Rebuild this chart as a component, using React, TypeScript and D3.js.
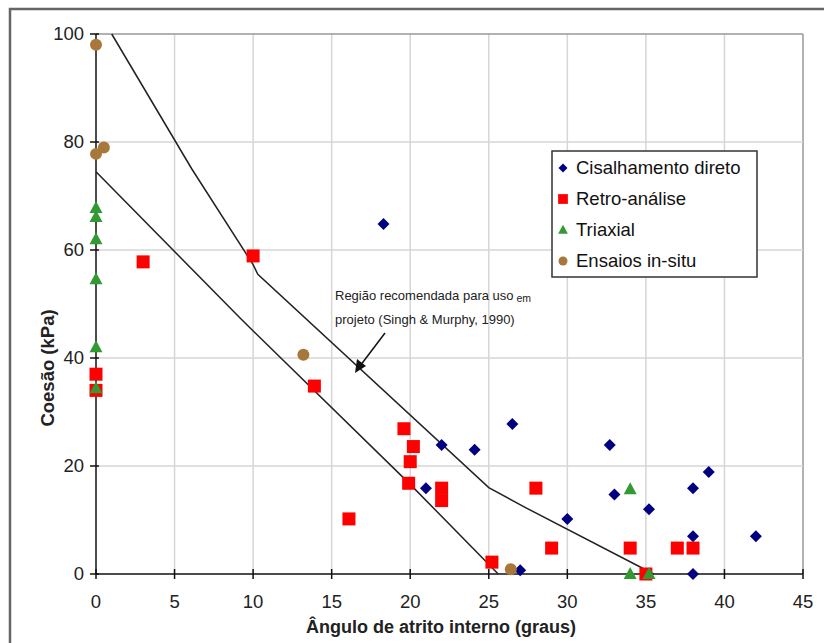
import * as d3 from 'd3'

// data (x = ângulo de atrito, y = coesão kPa)
const cisalhamento: [number, number][] = [
  [18.3, 64.8], [21, 15.9], [22, 23.9], [24.1, 23], [26.5, 27.8], [27, 0.7],
  [30, 10.2], [32.7, 23.9], [33, 14.7], [35.2, 12], [38, 15.9], [38, 7],
  [38, 0], [39, 18.9], [42, 7],
]
const retroAnalise: [number, number][] = [
  [0, 37], [0, 34], [3, 57.8], [10, 58.9], [13.9, 34.8], [16.1, 10.2],
  [19.6, 26.9], [20.2, 23.6], [20, 20.8], [19.9, 16.8], [22, 15.9], [22, 13.6],
  [25.2, 2.2], [28, 15.9], [29, 4.8], [34, 4.8], [35, 0], [37, 4.8], [38, 4.8],
]
const triaxial: [number, number][] = [
  [0, 67.8], [0, 66.1], [0, 62], [0, 54.6], [0, 42], [0, 34.4],
  [34, 15.7], [34, 0], [35.2, 0],
]
const ensaiosInSitu: [number, number][] = [
  [0, 98], [0, 77.8], [0.5, 79], [13.2, 40.6], [26.4, 0.9],
]
const upperLimit: [number, number][] = [
  [1, 100], [6.1, 75], [10, 57.3], [10.3, 55.5], [25, 16], [27.4, 12.2], [35.5, 0],
]
const lowerLimit: [number, number][] = [
  [0, 74.5], [9.2, 47.3], [20, 16.6], [25.6, 0],
]
const xTicks = [0, 5, 10, 15, 20, 25, 30, 35, 40, 45]
const yTicks = [0, 20, 40, 60, 80, 100]
const legendNames = ['Cisalhamento direto', 'Retro-análise', 'Triaxial', 'Ensaios in-situ']

const W = 824
const H = 643
const margin = { top: 34, right: 21, bottom: 69, left: 96 }
const font = 'Arial, "Liberation Sans", sans-serif'

const colors = ['#000080', '#ff0000', '#339933', '#a8783a']

const Marker = ({ kind, x, y }: { kind: number; x: number; y: number }) => {
  if (kind === 0) return <path d={`M${x},${y - 6}L${x + 6},${y}L${x},${y + 6}L${x - 6},${y}Z`} fill={colors[0]} />
  if (kind === 1) return <rect x={x - 6.5} y={y - 6.5} width={13} height={13} fill={colors[1]} />
  if (kind === 2) return <path d={`M${x},${y - 7}L${x + 6.5},${y + 5}L${x - 6.5},${y + 5}Z`} fill={colors[2]} />
  return <circle cx={x} cy={y} r={6} fill={colors[3]} />
}

const App = () => {
  const x = d3.scaleLinear().domain([0, 45]).range([margin.left, W - margin.right])
  const y = d3.scaleLinear().domain([0, 100]).range([H - margin.bottom, margin.top])
  const line = d3.line<[number, number]>().x(d => x(d[0])).y(d => y(d[1]))
  const series = [cisalhamento, retroAnalise, triaxial, ensaiosInSitu]
  const x0 = x(0), x1 = x(45), y0 = y(0), y1 = y(100)

  return (
    <svg width={W} height={H} style={{ position: 'absolute', left: 0, top: 0, background: '#fff' }}>
      <rect x={0} y={0} width={W} height={H} fill="#fff" />
      {/* outer frame */}
      <rect x={10} y={9} width={W + 20} height={H + 20} fill="none" stroke="#666" strokeWidth={2.5} />

      {/* grid */}
      {xTicks.slice(1).map(t => (
        <line key={'gx' + t} x1={x(t)} x2={x(t)} y1={y1} y2={y0} stroke={t === 45 ? '#999' : '#d6d6d6'} strokeWidth={1.5} />
      ))}
      {yTicks.slice(1).map(t => (
        <line key={'gy' + t} x1={x0} x2={x1} y1={y(t)} y2={y(t)} stroke={t === 100 ? '#999' : '#d6d6d6'} strokeWidth={1.5} />
      ))}

      {/* axes */}
      <line x1={x0} x2={x0} y1={y1} y2={y0} stroke="#111" strokeWidth={1.5} />
      <line x1={x0} x2={x1} y1={y0} y2={y0} stroke="#111" strokeWidth={1.5} />
      {yTicks.map(t => (
        <g key={'ty' + t}>
          <line x1={x0 - 6} x2={x0 + 3} y1={y(t)} y2={y(t)} stroke="#111" strokeWidth={1.5} />
          <text x={x0 - 12} y={y(t)} dy="0.35em" textAnchor="end" fontFamily={font} fontSize={18.5} fill="#222">{t}</text>
        </g>
      ))}
      {xTicks.map(t => (
        <g key={'tx' + t}>
          <line x1={x(t)} x2={x(t)} y1={y0 - 5} y2={y0 + 5} stroke="#111" strokeWidth={1.5} />
          <text x={x(t)} y={y0 + 34} textAnchor="middle" fontFamily={font} fontSize={18.5} fill="#222">{t}</text>
        </g>
      ))}

      {/* limit lines */}
      <path d={line(upperLimit) ?? ''} fill="none" stroke="#222" strokeWidth={1.5} />
      <path d={line(lowerLimit) ?? ''} fill="none" stroke="#222" strokeWidth={1.5} />

      {/* points */}
      {series.map((s, k) => s.map((d, i) => <Marker key={k + '-' + i} kind={k} x={x(d[0])} y={y(d[1])} />))}

      {/* annotation */}
      <text x={335} y={300} fontFamily={font} fontSize={13} fill="#222">
        Região recomendada para uso<tspan fontSize={10.5} dx={3} dy={2}>em</tspan>
      </text>
      <text x={335} y={324} fontFamily={font} fontSize={13} fill="#222">projeto (Singh &amp; Murphy, 1990)</text>
      <line x1={385} y1={333} x2={360} y2={366} stroke="#111" strokeWidth={1.5} />
      <path d="M355,373 L357,359 L366,366 Z" fill="#111" />

      {/* legend */}
      <rect x={552} y={151} width={205} height={126} fill="#fff" stroke="#333" strokeWidth={1.5} />
      {legendNames.map((n, k) => (
        <g key={n}>
          <g transform={`translate(${563},${168 + k * 31}) scale(0.75) translate(${-563},${-(168 + k * 31)})`}>
            <Marker kind={k} x={563} y={168 + k * 31} />
          </g>
          <text x={576} y={168 + k * 31} dy="0.35em" fontFamily={font} fontSize={18.5} fill="#111">{n}</text>
        </g>
      ))}

      {/* axis titles */}
      <text transform={`translate(54,368) rotate(-90)`} textAnchor="middle" fontFamily={font} fontSize={18.5} fontWeight="bold" fill="#222">Coesão (kPa)</text>
      <text x={441} y={633} textAnchor="middle" fontFamily={font} fontSize={18} fontWeight="bold" fill="#222">Ângulo de atrito interno (graus)</text>
    </svg>
  )
}

export default App
